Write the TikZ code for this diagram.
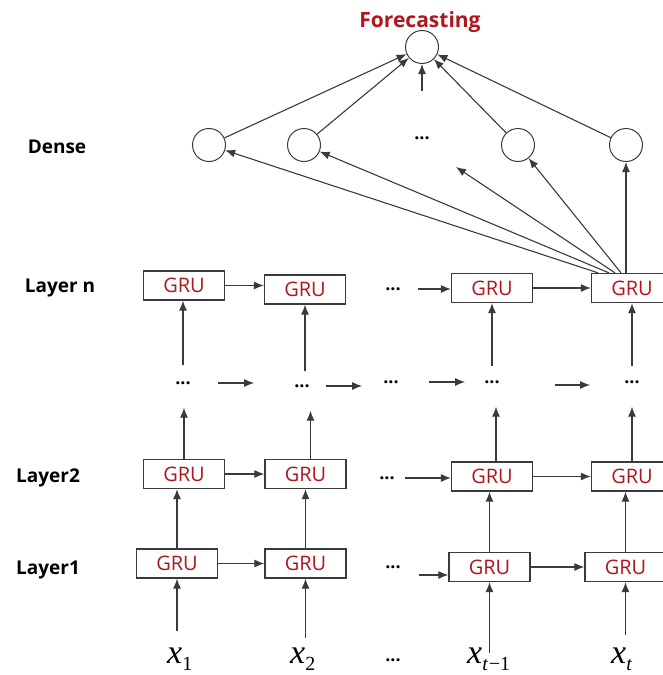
\documentclass[tikz,border=0pt]{standalone}
\usepackage{fontspec}
\setsansfont{Open Sans}
\newfontfamily\inpfont{Liberation Serif}
\usepackage{tikz}
\usetikzlibrary{positioning, arrows.meta}
\definecolor{grured}{HTML}{B0161E}
\definecolor{linegray}{HTML}{3A3A3A}
\newcommand{\insub}[1]{\raisebox{-7pt}{\fontsize{20}{24}\selectfont #1}}

\tikzset{
    gru/.style={draw=linegray, line width=1.3pt, fill=white, minimum width=81pt, minimum height=29pt, inner sep=0pt, text=grured, font=\sffamily\fontsize{20}{24}\selectfont},
    neuron/.style={draw=linegray, circle, line width=1pt, minimum size=33pt, inner sep=0pt},
    lbl/.style={font=\sffamily\bfseries\fontsize{19}{23}\selectfont},
    ellip/.style={font=\sffamily\bfseries\fontsize{18}{20}\selectfont, inner sep=1pt},
    inp/.style={font=\inpfont\itshape\fontsize{34}{40}\selectfont, inner sep=0pt, anchor=base west},
    arr/.style={-{Latex[length=10pt,width=8pt]}, line width=1.1pt, draw=linegray},
}

\begin{document}
\begin{tikzpicture}[x=1pt, y=-1pt]
        \useasboundingbox (0,0) rectangle (663,675);

        \node[lbl, text=grured, font=\sffamily\bfseries\fontsize{21}{25}\selectfont] (fc) at (420,22) {Forecasting};
        \node[neuron] (out) at (422,47) {};
        \coordinate (outin) at (422,91);

        \node[lbl] (denseLabel) at (57,147) {Dense};
        \node[neuron] (h1) at (209,145) {};
        \node[neuron] (h2) at (304,145) {};
        \node[ellip] (hdots) at (422,138) {...};
        \node[neuron] (h3) at (518,145) {};
        \node[neuron] (h4) at (626,145) {};
        \coordinate (hmid) at (456,167);

        \node[lbl] (layerNLabel) at (60,288) {Layer n};
        \node[gru] (n1) at (184,285.5) {GRU};
        \node[gru] (n2) at (305,289.5) {GRU};
        \node[ellip] (ndots) at (393,289) {...};
        \node[gru] (n3) at (492,288) {GRU};
        \node[gru] (n4) at (632,288) {GRU};

        \node[ellip] (d1) at (183,383) {...};
        \node[ellip] (d2) at (302,386) {...};
        \node[ellip] (d3) at (391,382) {...};
        \node[ellip] (d4) at (492,382) {...};
        \node[ellip] (d5) at (632,382) {...};

        \node[lbl] (layer2Label) at (48,478) {Layer2};
        \node[gru] (b1) at (184,474) {GRU};
        \node[gru] (b2) at (305.5,474) {GRU};
        \node[ellip] (bdots) at (387,478) {...};
        \node[gru] (b3) at (492,476.5) {GRU};
        \node[gru] (b4) at (632,476.5) {GRU};

        \node[lbl] (layer1Label) at (48,570) {Layer1};
        \node[gru] (a1) at (177,563.5) {GRU};
        \node[gru] (a2) at (305.5,563.5) {GRU};
        \node[ellip] (adots) at (393,567) {...};
        \coordinate (ain) at (419,575);
        \node[gru] (a3) at (489.5,567) {GRU};
        \node[gru] (a4) at (625.5,567) {GRU};

        \node[inp] (x1) at (167,663) {x\insub{\upshape 1}};
        \node[inp] (x2) at (290,663) {x\insub{\upshape 2}};
        \node[ellip] (xdots) at (393,660) {...};
        \node[inp] (x3) at (467,663) {x\insub{t\upshape\kern1pt{}−1}};
        \node[inp] (x4) at (611,663) {x\insub{t}};

        \draw [arr, shorten <=16pt] (a1.south |- x1.north) -- (a1.south);
        \draw [arr, shorten <=9pt] (a2.south |- x2.north) -- (a2.south);
        \draw [arr, shorten <=-6pt] (a3.south |- x3.north) -- (a3.south);
        \draw [arr, shorten <=12pt] (a4.south |- x4.north) -- (a4.south);

        \draw [arr] (a1.east) -- (a1.east -| a2.west);
        \draw [arr] (ain) -- (ain -| a3.west);
        \draw [arr] (a3.east) -- (a3.east -| a4.west);

        \draw [arr] (a1.north) -- (a1.north |- b1.south);
        \draw [arr] (a2.north) -- (a2.north |- b2.south);
        \draw [arr] (a3.north) -- (a3.north |- b3.south);
        \draw [arr] (a4.north) -- (a4.north |- b4.south);

        \draw [arr] (b1.east) -- (b1.east -| b2.west);
        \draw [arr, shorten <=9pt] (bdots.east) -- (bdots.east -| b3.west);
        \draw [arr] (b3.east) -- (b3.east -| b4.west);

        \draw [arr, shorten >=22pt] (b1.north) -- (b1.north |- d1.south);
        \draw [arr, shorten >=22pt] ([xshift=5pt]b2.north) -- ([xshift=5pt]b2.north |- d2.south);
        \draw [arr, shorten >=22pt] ([xshift=4pt]b3.north) -- ([xshift=4pt]b3.north |- d4.south);
        \draw [arr, shorten >=22pt] (b4.north) -- (b4.north |- d5.south);

        \draw [arr, shorten <=26pt, shorten >=39pt] (d1.east) -- (d1.east -| d2.west);
        \draw [arr, shorten <=15pt, shorten >=20pt] (d2.east) -- (d2.east -| d3.west);
        \draw [arr, shorten <=29pt, shorten >=18pt] (d3.east) -- (d3.east -| d4.west);
        \draw [arr, shorten <=54pt, shorten >=33pt] ([yshift=-3pt]d4.east) -- ([yshift=-3pt]d4.east -| d5.west);

        \draw [arr, shorten <=15pt] (d1.north) -- (d1.north |- n1.south);
        \draw [arr, shorten <=12pt] (n2.south |- d2.north) -- (n2.south);
        \draw [arr, shorten <=13pt] (d4.north) -- (d4.north |- n3.south);
        \draw [arr, shorten <=13pt] (d5.north) -- (d5.north |- n4.south);

        \draw [arr] (n1.east) -- (n1.east -| n2.west);
        \draw [arr, shorten <=16pt] (ndots.east) -- (ndots.east -| n3.west);
        \draw [arr] (n3.east) -- (n3.east -| n4.west);

        \draw [arr] ([xshift=-34pt]n4.north) -- (h1);
        \draw [arr] ([xshift=-23pt]n4.north) -- (h2);
        \draw [arr] ([xshift=-17pt]n4.north) -- (hmid);
        \draw [arr] ([xshift=-11pt]n4.north) -- (h3);
        \draw [arr] (h4 |- n4.north) -- (h4);

        \draw [arr] (h1) -- (out);
        \draw [arr] (h2) -- (out);
        \draw [arr] (outin) -- (out);
        \draw [arr] (h3) -- (out);
        \draw [arr] (h4) -- (out);
    \end{tikzpicture}
\end{document}
